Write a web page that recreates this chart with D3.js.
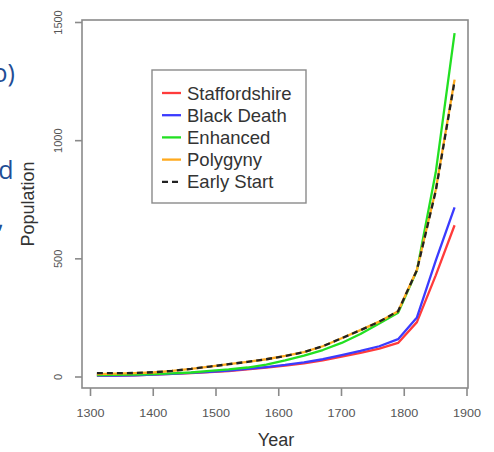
<!DOCTYPE html>
<html><head><meta charset="utf-8">
<script src="https://cdn.jsdelivr.net/npm/d3@7"></script>
<style>body{margin:0;background:#fff}svg{display:block}</style>
</head><body>
<svg id="c" width="494" height="452"></svg>
<script>
const years = [1311,1341,1371,1401,1431,1461,1491,1521,1551,1581,1611,1641,1671,1701,1731,1761,1791,1821,1851,1881];
const staffordshire = [4,4,5,8,11,14,19,23,30,38,46,56,68,84,100,118,142,230,428,640];
const blackDeath    = [4,4,5,8,11,15,20,25,32,40,49,60,73,90,108,128,158,250,490,716];
const enhanced      = [6,7,8,10,13,17,24,30,38,50,68,88,112,142,180,224,270,449,864,1453];
const polygyny      = [10,12,14,17,24,32,42,52,62,73,87,103,128,162,196,232,276,452,790,1256];
const earlyStart    = [14,14,15,18,24,32,42,52,62,73,87,103,128,162,196,232,276,450,785,1250];
const seriesNames = ["Staffordshire","Black Death","Enhanced","Polygyny","Early Start"];
const xTicks = [1300,1400,1500,1600,1700,1800,1900];
const yTicks = [0,500,1000,1500];

const seriesData = [staffordshire, blackDeath, enhanced, polygyny, earlyStart];
const colors = ["#ff3b3b","#3b3bff","#22e022","#ffaa1e","#222"];
const dashes = [null,null,null,null,"6,4"];

const svg = d3.select("#c");
const x = d3.scaleLinear().domain([1300,1900]).range([90,466.5]);
const y = d3.scaleLinear().domain([0,1500]).range([376.5,22]);

// slide fragments at left edge
const frag = svg.append("g").attr("fill","#1f4e96").attr("font-family","'Open Sans','Noto Sans',sans-serif").attr("font-size",25);
frag.append("text").attr("x",15).attr("y",82).attr("text-anchor","end").text("o)");
frag.append("text").attr("x",13.5).attr("y",179).attr("text-anchor","end").text("d");
frag.append("text").attr("x",4).attr("y",228).attr("text-anchor","end").text(",");

// box
svg.append("rect").attr("x",82).attr("y",20).attr("width",386).attr("height",368)
  .attr("fill","none").attr("stroke","#8a8a8a").attr("stroke-width",1.6);

// x axis
const gx = svg.append("g").attr("transform","translate(0,388)")
  .call(d3.axisBottom(x).tickValues(xTicks).tickSize(8).tickFormat(d3.format("d")));
gx.select(".domain").remove();
gx.selectAll(".tick line").attr("stroke","#8a8a8a").attr("stroke-width",1.6);
gx.selectAll(".tick text").attr("y",29).attr("dy",null).attr("fill","#555")
  .attr("font-family","Liberation Sans, Arial, sans-serif").attr("font-size",11.5)
  .attr("textLength",28).attr("lengthAdjust","spacingAndGlyphs");

// y axis
const gy = svg.append("g").attr("transform","translate(82,0)")
  .call(d3.axisLeft(y).tickValues(yTicks).tickSize(7).tickFormat(d3.format("d")));
gy.select(".domain").remove();
gy.selectAll(".tick line").attr("stroke","#8a8a8a").attr("stroke-width",1.6);
gy.selectAll(".tick text").attr("x",null).attr("dy",null)
  .attr("transform","translate(-20,0) rotate(-90)").attr("text-anchor","middle")
  .attr("fill","#555").attr("font-family","Liberation Sans, Arial, sans-serif").attr("font-size",11);

// axis titles
svg.append("text").attr("x",276).attr("y",446).attr("text-anchor","middle")
  .attr("font-family","Liberation Sans, Arial, sans-serif").attr("font-size",18).attr("fill","#333").text("Year");
svg.append("text").attr("transform","translate(34,204) rotate(-90)").attr("text-anchor","middle")
  .attr("font-family","Liberation Sans, Arial, sans-serif").attr("font-size",18).attr("fill","#333").text("Population");

// lines
const line = d3.line().x((d,i)=>x(years[i])).y(d=>y(d));
seriesData.forEach((s,k)=>{
  svg.append("path").datum(s).attr("d",line).attr("fill","none")
    .attr("stroke",colors[k]).attr("stroke-width",2.3)
    .attr("stroke-dasharray",dashes[k]).attr("stroke-linejoin","round");
});

// legend
const lg = svg.append("g");
lg.append("rect").attr("x",152).attr("y",70).attr("width",154).attr("height",133)
  .attr("fill","#fff").attr("stroke","#8a8a8a").attr("stroke-width",1.4);
seriesNames.forEach((n,k)=>{
  const yy = 93 + k*22.2;
  lg.append("line").attr("x1",162).attr("x2",181).attr("y1",yy).attr("y2",yy)
    .attr("stroke",colors[k]).attr("stroke-width",2.3).attr("stroke-dasharray",dashes[k]);
  lg.append("text").attr("x",187).attr("y",yy+6.5)
    .attr("font-family","Liberation Sans, Arial, sans-serif").attr("font-size",18.5).attr("fill","#333").text(n);
});
</script>
</body></html>
